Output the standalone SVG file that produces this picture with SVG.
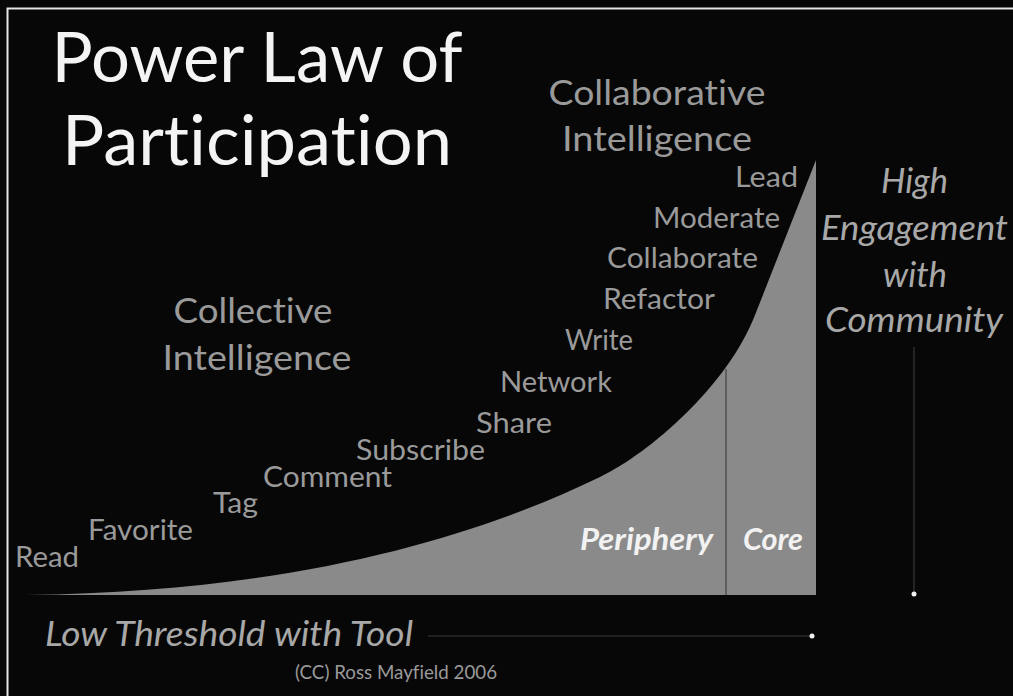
<svg xmlns="http://www.w3.org/2000/svg" width="1013" height="696" viewBox="0 0 1013 696">
<style>
text{font-family:Lato,"Open Sans","Liberation Sans",sans-serif;font-variant-ligatures:none;font-feature-settings:"liga" 0,"clig" 0}
.title{fill:#f4f4f4;font-size:70px;text-anchor:middle}
.head{fill:#9a9a9a;font-size:35px;text-anchor:middle}
.step{fill:#9a9a9a;font-size:28px}
.ital{fill:#a8a8a8;font-size:35px;font-style:italic}
.zone{fill:#f2f2f2;font-size:30px;font-style:italic;font-weight:bold}
.credit{fill:#9a9a9a;font-size:19px}
</style>
<rect x="0" y="0" width="1013" height="696" fill="#070707"/>
<rect x="7.5" y="8.5" width="1100" height="1000" fill="none" stroke="#e6e6e6" stroke-width="2"/>

<g id="title">
<text class="title" x="257" y="82" textLength="411" lengthAdjust="spacingAndGlyphs">Power Law of</text>
<text class="title" x="257" y="165" textLength="390" lengthAdjust="spacingAndGlyphs">Participation</text>
</g>

<g id="curve">
<path d="M25,595 C300,592 480,535 600,477 C650,453 728,385 755,315 L816,160 L816,595 Z" fill="#8a8a8a"/>
<line x1="726" y1="369" x2="726" y2="595" stroke="#505050" stroke-width="1.5"/>
</g>

<g id="collaborative">
<text class="head" x="657" y="105" textLength="217" lengthAdjust="spacingAndGlyphs">Collaborative</text>
<text class="head" x="657" y="151" textLength="190" lengthAdjust="spacingAndGlyphs">Intelligence</text>
</g>

<g id="collective">
<text class="head" x="253" y="323" textLength="159" lengthAdjust="spacingAndGlyphs">Collective</text>
<text class="head" x="257" y="370" textLength="189" lengthAdjust="spacingAndGlyphs">Intelligence</text>
</g>

<g id="steps">
<text class="step" x="735" y="187" textLength="63" lengthAdjust="spacingAndGlyphs">Lead</text>
<text class="step" x="653" y="228" textLength="127" lengthAdjust="spacingAndGlyphs">Moderate</text>
<text class="step" x="607" y="268" textLength="151" lengthAdjust="spacingAndGlyphs">Collaborate</text>
<text class="step" x="603" y="309" textLength="112" lengthAdjust="spacingAndGlyphs">Refactor</text>
<text class="step" x="565" y="350" textLength="68" lengthAdjust="spacingAndGlyphs">Write</text>
<text class="step" x="500" y="392" textLength="112" lengthAdjust="spacingAndGlyphs">Network</text>
<text class="step" x="476" y="433" textLength="76" lengthAdjust="spacingAndGlyphs">Share</text>
<text class="step" x="356" y="460" textLength="129" lengthAdjust="spacingAndGlyphs">Subscribe</text>
<text class="step" x="263" y="487" textLength="129" lengthAdjust="spacingAndGlyphs">Comment</text>
<text class="step" x="213" y="513" textLength="45" lengthAdjust="spacingAndGlyphs">Tag</text>
<text class="step" x="88" y="540" textLength="105" lengthAdjust="spacingAndGlyphs">Favorite</text>
<text class="step" x="15" y="567" textLength="64" lengthAdjust="spacingAndGlyphs">Read</text>
</g>

<g id="zones">
<text class="zone" x="580" y="550" textLength="133" lengthAdjust="spacingAndGlyphs">Periphery</text>
<text class="zone" x="743" y="550" textLength="60" lengthAdjust="spacingAndGlyphs">Core</text>
</g>

<g id="engagement">
<text class="ital" x="881" y="193" textLength="67" lengthAdjust="spacingAndGlyphs">High</text>
<text class="ital" x="821" y="240" textLength="187" lengthAdjust="spacingAndGlyphs">Engagement</text>
<text class="ital" x="883" y="287" textLength="64" lengthAdjust="spacingAndGlyphs">with</text>
<text class="ital" x="825" y="332" textLength="178" lengthAdjust="spacingAndGlyphs">Community</text>
</g>

<g id="threshold">
<text class="ital" x="45" y="646" textLength="368" lengthAdjust="spacingAndGlyphs">Low Threshold with Tool</text>
</g>

<g id="connectors">
<line x1="428" y1="636" x2="812" y2="636" stroke="#3a3a3a" stroke-width="1.2"/>
<circle cx="812" cy="636" r="2.5" fill="#f0f0f0"/>
<line x1="914" y1="347" x2="914" y2="594" stroke="#3a3a3a" stroke-width="1.2"/>
<circle cx="914" cy="594" r="2.5" fill="#f0f0f0"/>
</g>

<g id="credit">
<text class="credit" x="295" y="679" textLength="202" lengthAdjust="spacingAndGlyphs">(CC) Ross Mayfield 2006</text>
</g>
</svg>
